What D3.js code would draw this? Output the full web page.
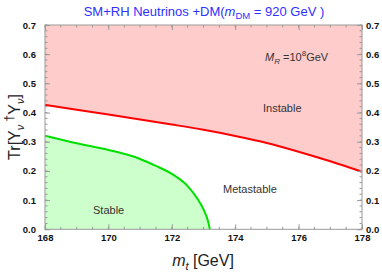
<!DOCTYPE html>
<html><head><meta charset="utf-8">
<script src="https://cdn.jsdelivr.net/npm/d3@7"></script>
<style>body{margin:0;background:#fff}svg{display:block;font-family:"Liberation Sans",Arial,sans-serif}</style>
</head><body>
<svg id="c" width="382" height="273"></svg>
<script>
// data
const redMt  = [168, 169, 170, 171, 172, 173, 174, 175, 176, 177, 178];
const redY   = [0.426, 0.410, 0.393, 0.376, 0.359, 0.341, 0.320, 0.296, 0.266, 0.233, 0.197];
const greenMt = [168, 169, 170, 171, 171.5, 172, 172.5, 172.8, 173.0, 173.15, 173.2];
const greenY  = [0.321, 0.295, 0.272, 0.241, 0.217, 0.190, 0.148, 0.106, 0.068, 0.025, 0.0];
const xTicks = [168, 170, 172, 174, 176, 178];
const yTicks = [0.0, 0.1, 0.2, 0.3, 0.4, 0.5, 0.6, 0.7];

const svg = d3.select("#c");
const x = d3.scaleLinear().domain([168, 178]).range([45, 362]);
const y = d3.scaleLinear().domain([0, 0.7]).range([229.3, 25]);

const red = redMt.map((m, i) => [m, redY[i]]);
const green = greenMt.map((m, i) => [m, greenY[i]]);
const curve = d3.curveMonotoneX;

// fills
svg.append("path")
  .attr("d", d3.area().x(d => x(d[0])).y0(y(0.7)).y1(d => y(d[1])).curve(curve)(red))
  .attr("fill", "#ffcccc");
svg.append("path")
  .attr("d", d3.area().x(d => x(d[0])).y0(y(0)).y1(d => y(d[1])).curve(curve)(green))
  .attr("fill", "#ccffcc");

// lines
svg.append("path")
  .attr("d", d3.line().x(d => x(d[0])).y(d => y(d[1])).curve(curve)(red))
  .attr("fill", "none").attr("stroke", "#ff0000").attr("stroke-width", 2);
svg.append("path")
  .attr("d", d3.line().x(d => x(d[0])).y(d => y(d[1])).curve(curve)(green))
  .attr("fill", "none").attr("stroke", "#00e000").attr("stroke-width", 2);

// axes
const gray = "#999";
function styleAxis(g) {
  g.select(".domain").remove();
  g.selectAll("line").attr("stroke", gray);
  g.selectAll("text").attr("font-weight", "bold").attr("font-size", 9.5).attr("fill", "#111")
    .attr("font-family", "'Liberation Sans', Arial, sans-serif");
}
const xMinor = d3.range(168, 178.01, 0.5);
const yMinor = d3.range(0, 0.7001, 0.02);

// minor ticks
[[y(0), -1], [y(0.7), 1]].forEach(([yy, s]) => {
  svg.append("g").selectAll("line").data(xMinor).join("line")
    .attr("x1", d => x(d)).attr("x2", d => x(d)).attr("y1", yy).attr("y2", yy + s * 2.5)
    .attr("stroke", gray);
});
[[x(168), 1], [x(178), -1]].forEach(([xx, s]) => {
  svg.append("g").selectAll("line").data(yMinor).join("line")
    .attr("x1", xx).attr("x2", xx + s * 2.5).attr("y1", d => y(d)).attr("y2", d => y(d))
    .attr("stroke", gray);
});

svg.append("g").attr("transform", `translate(0,${y(0)})`)
  .call(d3.axisBottom(x).tickValues(xTicks).tickSizeInner(-5).tickSizeOuter(0).tickPadding(5).tickFormat(d3.format("d")))
  .call(styleAxis);
svg.append("g").attr("transform", `translate(0,${y(0.7)})`)
  .call(d3.axisTop(x).tickValues(xTicks).tickSizeInner(-5).tickSizeOuter(0).tickFormat(""))
  .call(styleAxis);
svg.append("g").attr("transform", `translate(${x(168)},0)`)
  .call(d3.axisLeft(y).tickValues(yTicks).tickSizeInner(-5).tickSizeOuter(0).tickPadding(9).tickFormat(d3.format(".1f")))
  .call(styleAxis);
svg.append("g").attr("transform", `translate(${x(178)},0)`)
  .call(d3.axisRight(y).tickValues(yTicks).tickSizeInner(-5).tickSizeOuter(0).tickPadding(4).tickFormat(d3.format(".1f")))
  .call(styleAxis);

// frame
svg.append("rect").attr("x", x(168)).attr("y", y(0.7))
  .attr("width", x(178) - x(168)).attr("height", y(0) - y(0.7))
  .attr("fill", "none").attr("stroke", gray).attr("stroke-width", 1);

// title
const t = svg.append("text").attr("x", 204).attr("y", 16).attr("text-anchor", "middle")
  .attr("fill", "#3030ff").attr("font-size", 13);
t.append("tspan").text("SM+RH  Neutrinos +DM(");
t.append("tspan").attr("font-style", "italic").text("m");
t.append("tspan").attr("font-size", 9.5).attr("dy", 3).text("DM");
t.append("tspan").attr("dy", -3).text(" = 920  GeV )");

// axis labels
const xl = svg.append("text").attr("x", 203).attr("y", 266).attr("text-anchor", "middle")
  .attr("fill", "#222").attr("font-size", 16);
xl.append("tspan").attr("font-style", "italic").text("m");
xl.append("tspan").attr("font-size", 11).attr("dy", 4).attr("font-style", "italic").text("t");
xl.append("tspan").attr("dy", -4).text(" [GeV]");

const yl = svg.append("text").attr("transform", "translate(20,127) rotate(-90)")
  .attr("text-anchor", "middle").attr("fill", "#222").attr("font-size", 16);
yl.append("tspan").text("Tr[Y");
yl.append("tspan").attr("font-size", 11).attr("dy", 4).attr("font-style", "italic").text("ν");
yl.append("tspan").attr("dy", -11).attr("font-size", 12).text(" †");
yl.append("tspan").attr("dy", 7).text("Y");
yl.append("tspan").attr("font-size", 11).attr("dy", 4).attr("font-style", "italic").text("ν");
yl.append("tspan").attr("dy", -4).text("]");

// annotations
const ann = (tx, ty, s) => svg.append("text").attr("x", tx).attr("y", ty).attr("font-size", 11)
  .attr("fill", "#333").text(s);
ann(263, 112, "Instable");
ann(223, 193, "Metastable");
ann(93, 214, "Stable");
const mr = svg.append("text").attr("x", 265).attr("y", 61).attr("font-size", 11).attr("fill", "#333");
mr.append("tspan").attr("font-style", "italic").text("M");
mr.append("tspan").attr("font-size", 8).attr("dy", 3).attr("font-style", "italic").text("R");
mr.append("tspan").attr("dy", -3).text(" =10");
mr.append("tspan").attr("font-size", 8).attr("dy", -5).text("8");
mr.append("tspan").attr("dy", 5).text("GeV");
</script>
</body></html>
